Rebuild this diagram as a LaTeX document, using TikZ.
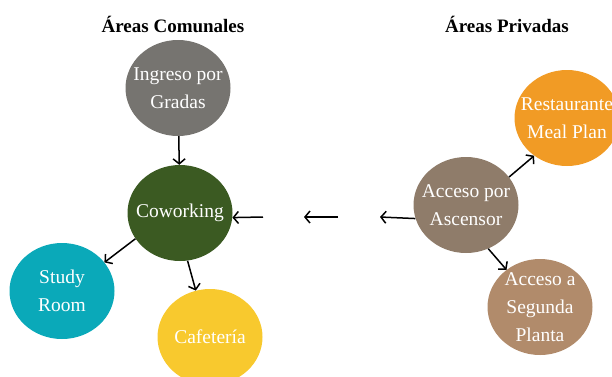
\documentclass[tikz,border=0pt]{standalone}
\usepackage{fontspec}
\setmainfont{Liberation Serif}
\usetikzlibrary{arrows.meta, positioning, shapes.geometric}

\definecolor{gris}{HTML}{767470}
\definecolor{verde}{HTML}{3B5A22}
\definecolor{turquesa}{HTML}{0AA9B9}
\definecolor{amarillo}{HTML}{F8C92E}
\definecolor{pardo}{HTML}{8F7C6A}
\definecolor{naranja}{HTML}{F19B25}
\definecolor{canela}{HTML}{B18B6B}

\begin{document}
\begin{tikzpicture}[x=1pt, y=-1pt, >={Straight Barb[length=5pt, width=12pt]}]
    \tikzstyle{b}=[ellipse, minimum width=105pt, minimum height=96pt,
        inner xsep=-18pt, inner ysep=-14pt,
        text=white, align=center, font=\fontsize{19.5}{28}\selectfont]
    \tikzstyle{t}=[font=\fontsize{19}{22}\selectfont\bfseries]
    \tikzstyle{a}=[->, line width=1.5pt]

    \useasboundingbox (0,0) rectangle (612,376);

    \node[t] (tc) at (173,24) {Áreas Comunales};
    \node[t] (tp) at (507,24) {Áreas Privadas};

    \node[b, fill=verde] (cw) at (180,213) {Coworking};
    \node[b, fill=gris] (ing) at (178,88) {Ingreso por\\Gradas};
    \node[b, fill=turquesa] (study) at (62,291) {Study\\Room};
    \node[b, fill=amarillo] (caf) at (210,337) {Cafetería};

    \node[b, fill=pardo] (asc) at (466,205) {Acceso por\\Ascensor};
    \node[b, fill=naranja] (rest) at (567,118) {Restaurante\\Meal Plan};
    \node[b, fill=canela] (seg) at (540,307) {Acceso a\\Segunda\\Planta};

    \coordinate (m1) at (263,217);
    \coordinate (m2) at (338,217);
    \coordinate (m3) at (304,217);
    \coordinate (m4) at (380,217);

    \draw[a] (ing) -- (cw);
    \draw[a] (cw.210) -- (study.34);
    \draw[a] (cw.279) -- (caf.107);
    \draw[a] (m1) -- (cw.355);
    \draw[a] (m2) -- (m3);
    \draw[a] (asc.195) -- (m4);
    \draw[a] (asc.33) -- (rest.229);
    \draw[a] (asc.297) -- (seg.132);
\end{tikzpicture}
\end{document}
